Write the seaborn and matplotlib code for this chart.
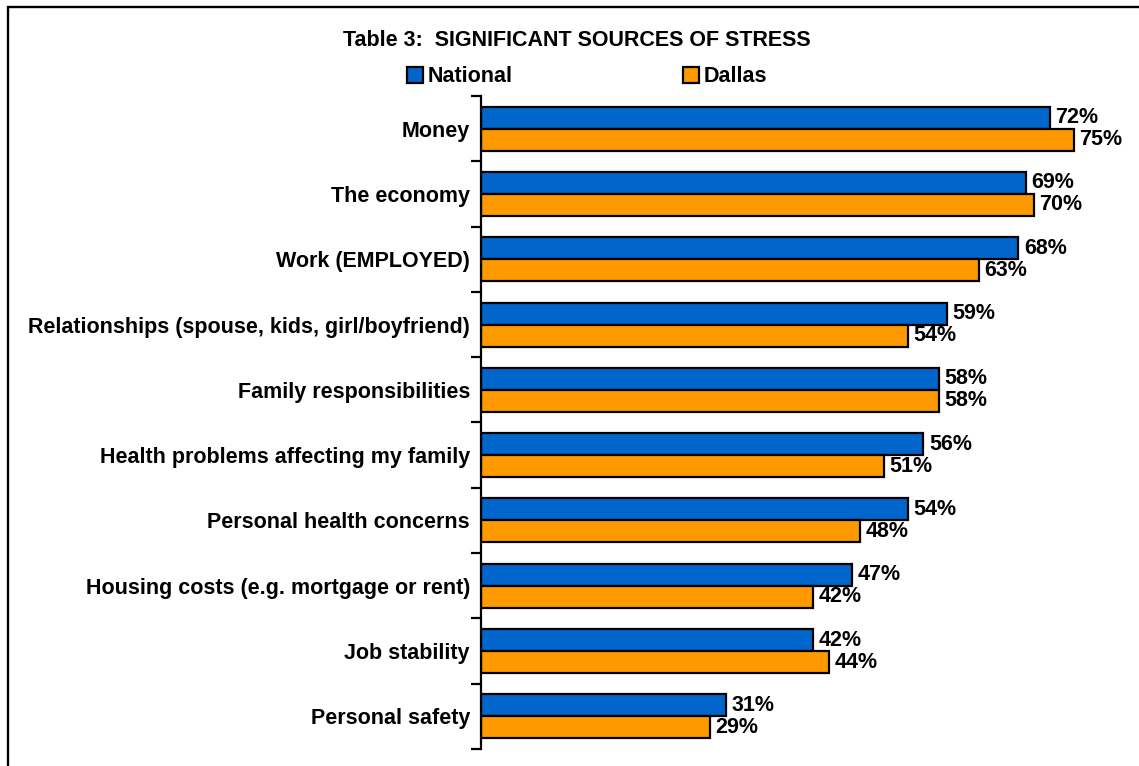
import matplotlib
matplotlib.use("Agg")
import matplotlib.pyplot as plt
from matplotlib.patches import Patch, Rectangle
from matplotlib.ticker import FixedLocator
import seaborn as sns
import pandas as pd

categories = [
    "Money",
    "The economy",
    "Work (EMPLOYED)",
    "Relationships (spouse, kids, girl/boyfriend)",
    "Family responsibilities",
    "Health problems affecting my family",
    "Personal health concerns",
    "Housing costs (e.g. mortgage or rent)",
    "Job stability",
    "Personal safety",
]
national = [72, 69, 68, 59, 58, 56, 54, 47, 42, 31]
dallas = [75, 70, 63, 54, 58, 51, 48, 42, 44, 29]
series_names = ["National", "Dallas"]
series_colors = ["#0066CC", "#FF9900"]
title_text = "Table 3:  SIGNIFICANT SOURCES OF STRESS"

df = pd.DataFrame({
    "category": categories * 2,
    "value": national + dallas,
    "series": [series_names[0]] * len(categories) + [series_names[1]] * len(categories),
})

sns.set_theme(style="white")
plt.rcParams["font.family"] = ["Liberation Sans", "DejaVu Sans"]
plt.rcParams["font.weight"] = "bold"
plt.rcParams["text.color"] = "black"
FS = 15.5

fig = plt.figure(figsize=(11.39, 7.66), dpi=100)
ax = fig.add_axes([481 / 1139, 17 / 766, (1100 - 481) / 1139, 653 / 766])

sns.barplot(
    data=df, y="category", x="value", hue="series", order=categories,
    hue_order=series_names, palette=series_colors, orient="h",
    width=0.675, edgecolor="black", linewidth=1.6, saturation=1,
    legend=False, ax=ax,
)

for container in ax.containers:
    ax.bar_label(container, fmt="%d%%", padding=4, fontsize=FS,
                 fontweight="bold", color="black")

ax.set_xlim(0, (1100 - 481) / 7.9)
ax.set_ylim(len(categories) - 0.5, -0.5)
ax.set_xlabel("")
ax.set_ylabel("")
ax.set_xticks([])
ax.set_yticks(range(len(categories)))
ax.set_yticklabels(categories, fontsize=FS, fontweight="bold", color="black")
ax.yaxis.set_minor_locator(FixedLocator([i - 0.5 for i in range(len(categories) + 1)]))
ax.tick_params(axis="y", which="major", length=0, pad=8)
ax.tick_params(axis="y", which="minor", left=True, length=7, width=1.6,
               color="black", direction="out")

for side in ["top", "right", "bottom"]:
    ax.spines[side].set_visible(False)
ax.spines["left"].set_color("black")
ax.spines["left"].set_linewidth(1.6)

fig.text(577 / 1139, 1 - 41 / 766, title_text, ha="center", va="center",
         fontsize=FS, fontweight="bold", color="black")

handles = [Patch(facecolor=c, edgecolor="black", linewidth=1.6) for c in series_colors]
leg = fig.legend(
    handles, series_names, loc="center", bbox_to_anchor=(587 / 1139, 1 - 77 / 766),
    ncol=2, frameon=False, prop={"size": FS, "weight": "bold"},
    handlelength=0.75, handleheight=0.75, handletextpad=0.2,
    columnspacing=7.9, borderpad=0,
)
for t in leg.get_texts():
    t.set_color("black")

# outer frame that runs off the right and bottom edges
fig.patches.append(Rectangle((7.5 / 1139, -0.05), 1.2, 1 - 7 / 766 + 0.05,
                             transform=fig.transFigure, fill=False,
                             edgecolor="black", linewidth=1.7))

fig.savefig("out.png", dpi=100, facecolor="white")
